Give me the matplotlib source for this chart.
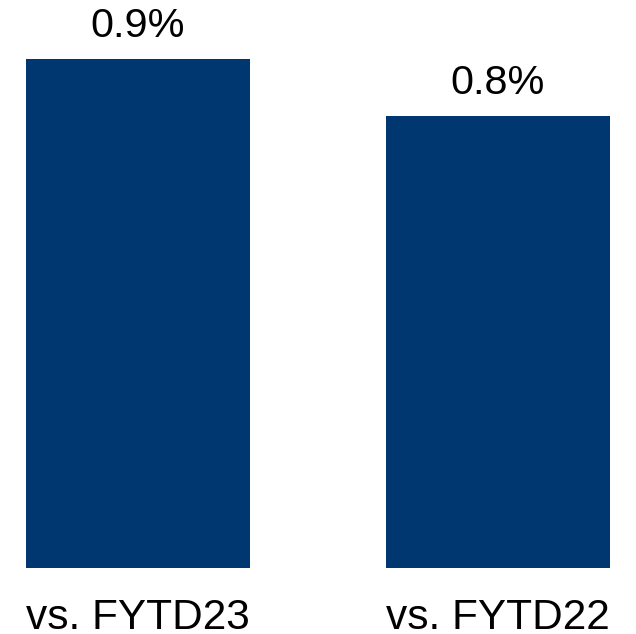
import matplotlib
matplotlib.use('Agg')
import matplotlib.pyplot as plt

categories = ['vs. FYTD23', 'vs. FYTD22']
values = [0.9, 0.8]
value_labels = ['0.9%', '0.8%']

plt.rcParams['font.family'] = ['Liberation Sans', 'DejaVu Sans']

fig = plt.figure(figsize=(6.36, 6.34), dpi=100)
# baseline sits at 568 px from the top
ax = fig.add_axes([0, 66 / 634, 1, 568 / 634])

x = range(len(categories))
bars = ax.bar(x, values, width=224 / 360, color='#003770')

ax.set_xlim(-138 / 360, (636 - 138) / 360)
ax.set_ylim(0, 0.9 * 568 / 509)
ax.axis('off')

for bar, lab in zip(bars, value_labels):
    ax.annotate(lab, (bar.get_x() + bar.get_width() / 2, bar.get_height()),
                xytext=(0, 22 * 0.72), textcoords='offset points',
                ha='center', va='baseline', fontsize=29.8, color='black')

for xi, cat in zip(x, categories):
    ax.annotate(cat, (xi, 0), xytext=(0, -61 * 0.72), textcoords='offset points',
                ha='center', va='baseline', fontsize=30.5, color='black',
                annotation_clip=False)

fig.savefig('out.png', dpi=100)
